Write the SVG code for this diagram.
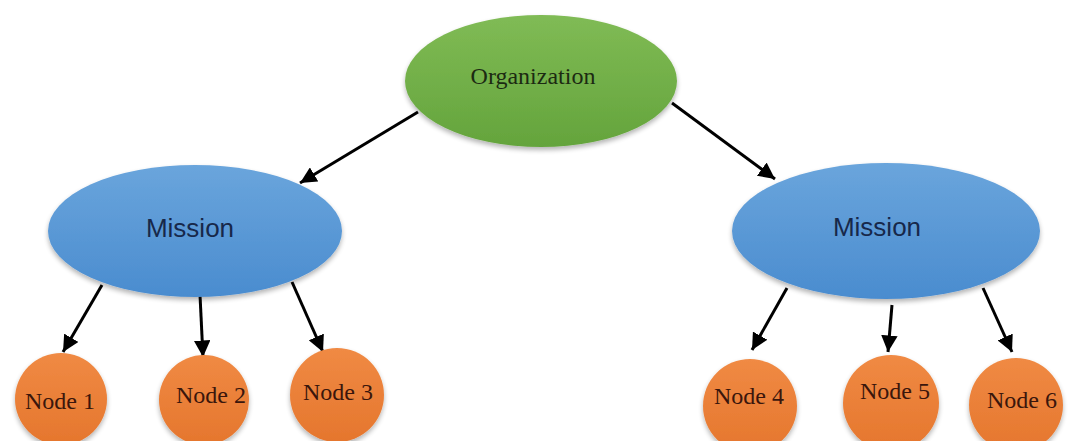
<svg xmlns="http://www.w3.org/2000/svg" width="1069" height="441" viewBox="0 0 1069 441">
<defs>
<linearGradient id="gGreen" x1="0" y1="0" x2="0" y2="1"><stop offset="0" stop-color="#80bb55"/><stop offset="1" stop-color="#64a43c"/></linearGradient>
<linearGradient id="gBlue" x1="0" y1="0" x2="0" y2="1"><stop offset="0" stop-color="#6aa5dc"/><stop offset="1" stop-color="#4a8ccf"/></linearGradient>
<linearGradient id="gOrange" x1="0" y1="0" x2="0" y2="1"><stop offset="0" stop-color="#f08a44"/><stop offset="1" stop-color="#e5762d"/></linearGradient>
<filter id="sh" x="-20%" y="-20%" width="140%" height="150%"><feGaussianBlur in="SourceAlpha" stdDeviation="2.5"/><feOffset dx="0" dy="3"/><feComponentTransfer><feFuncA type="linear" slope="0.3"/></feComponentTransfer><feMerge><feMergeNode/><feMergeNode in="SourceGraphic"/></feMerge></filter>
<marker id="ah" viewBox="0 0 10 10" refX="10" refY="5" markerWidth="5.5" markerHeight="5.5" orient="auto" markerUnits="strokeWidth"><path d="M0,0 L10,5 L0,10 z" fill="#000"/></marker>
<style>
.c{stroke:#000;stroke-width:3;fill:none;marker-end:url(#ah)}
.ser{font-family:"Liberation Serif","DejaVu Serif",serif;text-anchor:middle;dominant-baseline:central}
.san{font-family:"Liberation Sans",Arial,sans-serif;text-anchor:middle;dominant-baseline:central;font-size:26px;fill:#17284a}
.nd{font-size:24px;fill:#3a160c}
</style>
</defs>
<rect width="1069" height="441" fill="#fff"/>
<g id="connectors">
<line class="c" x1="418" y1="112" x2="300" y2="183"/>
<line class="c" x1="672" y1="103" x2="775" y2="179"/>
<line class="c" x1="102" y1="285" x2="63" y2="352"/>
<line class="c" x1="200" y1="295" x2="203" y2="357"/>
<line class="c" x1="292" y1="282" x2="323" y2="352"/>
<line class="c" x1="787" y1="288" x2="752" y2="350"/>
<line class="c" x1="892" y1="305" x2="888" y2="352"/>
<line class="c" x1="983" y1="288" x2="1012" y2="352"/>
</g>
<g id="org"><ellipse cx="541" cy="81" rx="136" ry="66" fill="url(#gGreen)" filter="url(#sh)"/><text class="ser" x="533" y="76" font-size="24" fill="#1c2a12">Organization</text></g>
<g id="missionL"><ellipse cx="195" cy="231" rx="147" ry="66" fill="url(#gBlue)" filter="url(#sh)"/><text class="san" x="190" y="228">Mission</text></g>
<g id="missionR"><ellipse cx="886" cy="231" rx="154" ry="68" fill="url(#gBlue)" filter="url(#sh)"/><text class="san" x="877" y="227">Mission</text></g>
<g id="node1"><circle cx="61" cy="399" r="46" fill="url(#gOrange)" filter="url(#sh)"/><text class="ser nd" x="60" y="401">Node 1</text></g>
<g id="node2"><circle cx="204" cy="400" r="45" fill="url(#gOrange)" filter="url(#sh)"/><text class="ser nd" x="211" y="395">Node 2</text></g>
<g id="node3"><circle cx="337" cy="395" r="47" fill="url(#gOrange)" filter="url(#sh)"/><text class="ser nd" x="338" y="392">Node 3</text></g>
<g id="node4"><circle cx="750" cy="406" r="47" fill="url(#gOrange)" filter="url(#sh)"/><text class="ser nd" x="749" y="396">Node 4</text></g>
<g id="node5"><circle cx="891" cy="403" r="48" fill="url(#gOrange)" filter="url(#sh)"/><text class="ser nd" x="895" y="391">Node 5</text></g>
<g id="node6"><circle cx="1016" cy="405" r="47" fill="url(#gOrange)" filter="url(#sh)"/><text class="ser nd" x="1022" y="400">Node 6</text></g>
</svg>
